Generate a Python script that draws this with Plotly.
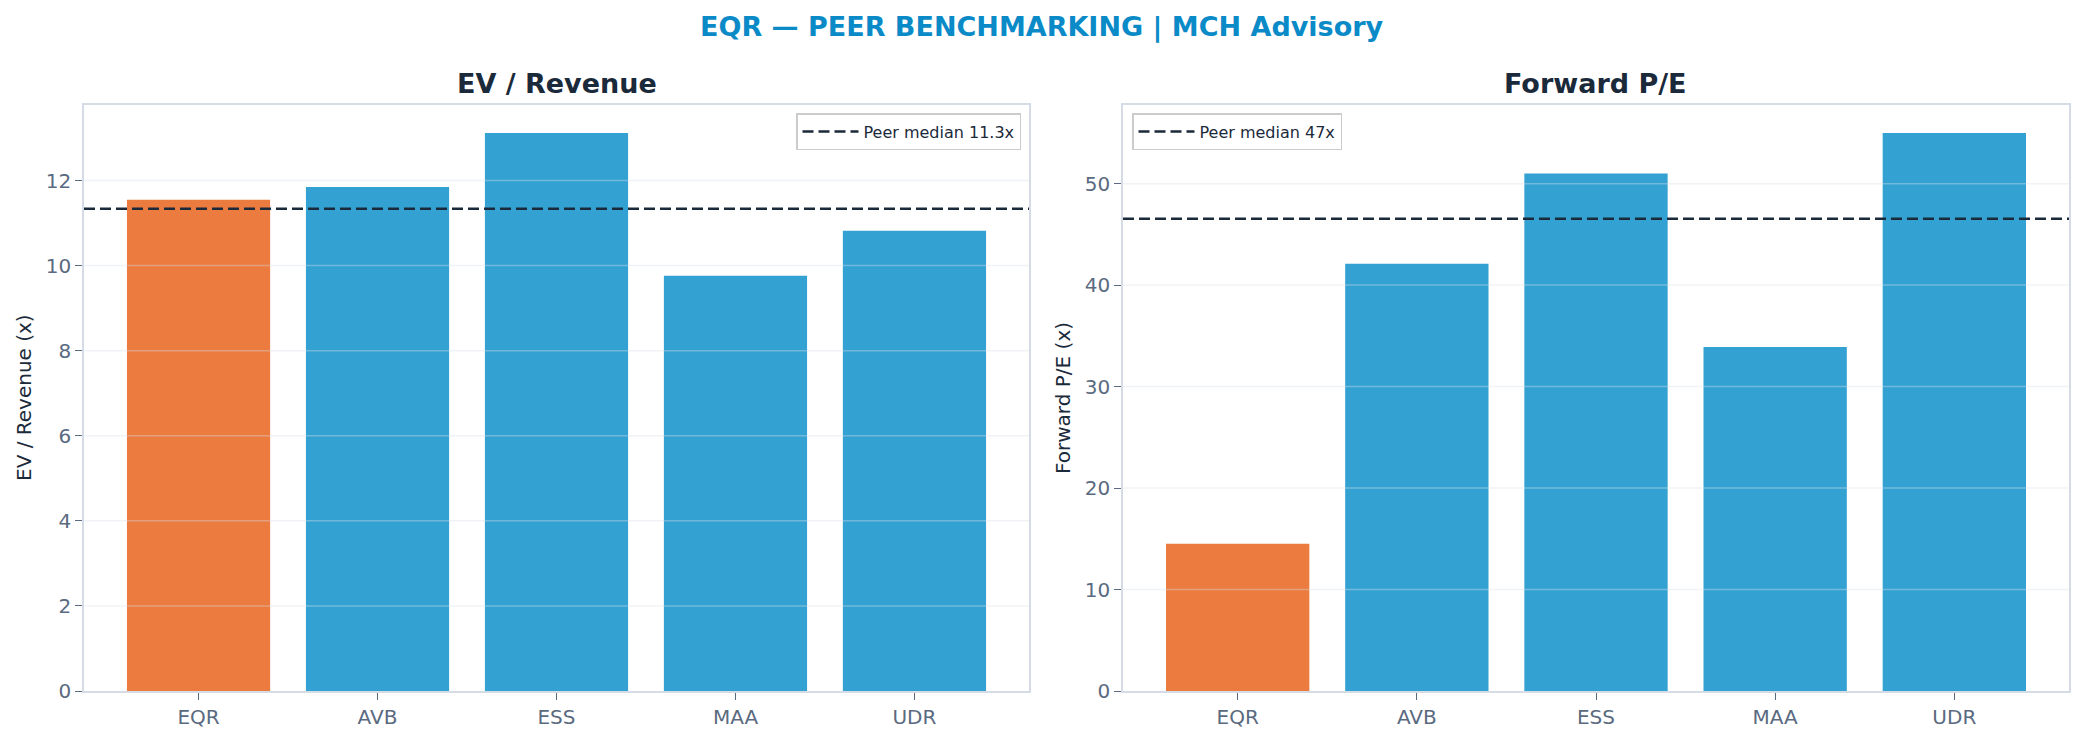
import plotly.graph_objects as go

# ---- data ----
tickers = ["EQR", "AVB", "ESS", "MAA", "UDR"]
ev_revenue = [11.55, 11.85, 13.12, 9.76, 10.82]
forward_pe = [14.5, 42.1, 51.0, 33.9, 55.0]
ev_ticks = [0, 2, 4, 6, 8, 10, 12]
pe_ticks = [0, 10, 20, 30, 40, 50]
subject = "EQR"

W, H = 2084, 741
ORANGE = "#EC7B3F"
BLUE = "#33A2D3"
NAVY = "#1B2A3A"
TICKC = "#5A6A80"
SPINE = "#D5DCE6"
FONT = "DejaVu Sans"


def peer_median(vals):
    peers = sorted(v for t, v in zip(tickers, vals) if t != subject)
    n = len(peers)
    return peers[n // 2] if n % 2 else (peers[n // 2 - 1] + peers[n // 2]) / 2


colors = [ORANGE if t == subject else BLUE for t in tickers]

fig = go.Figure()

panels = [
    ("x", "y", ev_revenue, ev_ticks, "EV / Revenue", "EV / Revenue (x)", "{:.1f}x", "legend"),
    ("x2", "y2", forward_pe, pe_ticks, "Forward P/E", "Forward P/E (x)", "{:.0f}x", "legend2"),
]

px = lambda v: v / W
py = lambda v: 1 - v / H

domains = [(px(84), px(1029)), (px(1123), px(2069))]
ydom = (py(691), py(105))

for i, (xa, ya, vals, ticks, title, ytitle, fmt, leg) in enumerate(panels):
    med = peer_median(vals)
    fig.add_trace(go.Bar(x=tickers, y=vals, marker=dict(color=colors, line=dict(width=0)),
                         width=0.8, xaxis=xa, yaxis=ya, showlegend=False))
    # legend entry for median
    fig.add_trace(go.Scatter(x=[None], y=[None], mode="lines", xaxis=xa, yaxis=ya,
                             line=dict(color=NAVY, width=2.5, dash="11px,5px"),
                             name="Peer median " + fmt.format(med), legend=leg, showlegend=True))
    axn = "" if i == 0 else "2"
    # gridlines drawn above bars
    for t in ticks[1:]:
        fig.add_shape(type="line", xref=f"x{axn} domain", yref=f"y{axn}", x0=0, x1=1, y0=t, y1=t,
                      line=dict(color="rgba(215,222,230,0.38)", width=1.5), layer="above")
    fig.add_shape(type="line", xref=f"x{axn} domain", yref=f"y{axn}", x0=0, x1=1, y0=med, y1=med,
                  line=dict(color=NAVY, width=2.5, dash="11px,5px"), layer="above")
    ymax = max(vals) * 1.05
    xkey = "xaxis" + axn
    ykey = "yaxis" + axn
    fig.update_layout(**{
        xkey: dict(domain=domains[i], range=[-0.64, len(tickers) - 0.36], anchor=ya,
                   showline=True, linecolor=SPINE, linewidth=1.5, mirror=True, automargin=False,
                   ticks="outside", ticklen=7, tickcolor=TICKC, tickwidth=1.2,
                   tickfont=dict(family=FONT, size=20, color=TICKC), showgrid=False, zeroline=False),
        ykey: dict(domain=ydom, range=[0, ymax], anchor=xa, tickvals=ticks,
                   showline=True, linecolor=SPINE, linewidth=1.5, mirror=True, automargin=False,
                   ticks="outside", ticklen=7, tickcolor=TICKC, tickwidth=1.2,
                   tickfont=dict(family=FONT, size=20, color=TICKC), showgrid=False, zeroline=False),
    })
    cx = (domains[i][0] + domains[i][1]) / 2
    fig.add_annotation(text=f"<b>{title}</b>", xref="paper", yref="paper", x=cx, y=py(84),
                       xanchor="center", yanchor="middle", showarrow=False,
                       font=dict(family=FONT, size=27, color=NAVY))
    fig.add_annotation(text=ytitle, xref="paper", yref="paper", x=px(24 if i == 0 else 1063),
                       y=(ydom[0] + ydom[1]) / 2, xanchor="center", yanchor="middle",
                       textangle=-90, showarrow=False,
                       font=dict(family=FONT, size=20, color=NAVY))

fig.add_annotation(text="<b>EQR — PEER BENCHMARKING | MCH Advisory</b>", xref="paper", yref="paper",
                   x=0.5, y=py(27), xanchor="center", yanchor="middle", showarrow=False,
                   font=dict(family=FONT, size=27, color="#0B8AC8"))

legend_style = dict(bgcolor="white", bordercolor="#CCCCCC", borderwidth=1.5,
                    font=dict(family=FONT, size=16, color=NAVY), itemwidth=56,
                    tracegroupgap=0)
fig.update_layout(
    width=W, height=H, margin=dict(l=0, r=0, t=0, b=0, autoexpand=False),
    paper_bgcolor="white", plot_bgcolor="white", bargap=0.2,
    legend=dict(x=px(1021), y=py(113), xanchor="right", yanchor="top", **legend_style),
    legend2=dict(x=px(1132), y=py(113), xanchor="left", yanchor="top", **legend_style),
    font=dict(family=FONT),
)

fig.write_html("out.html")
